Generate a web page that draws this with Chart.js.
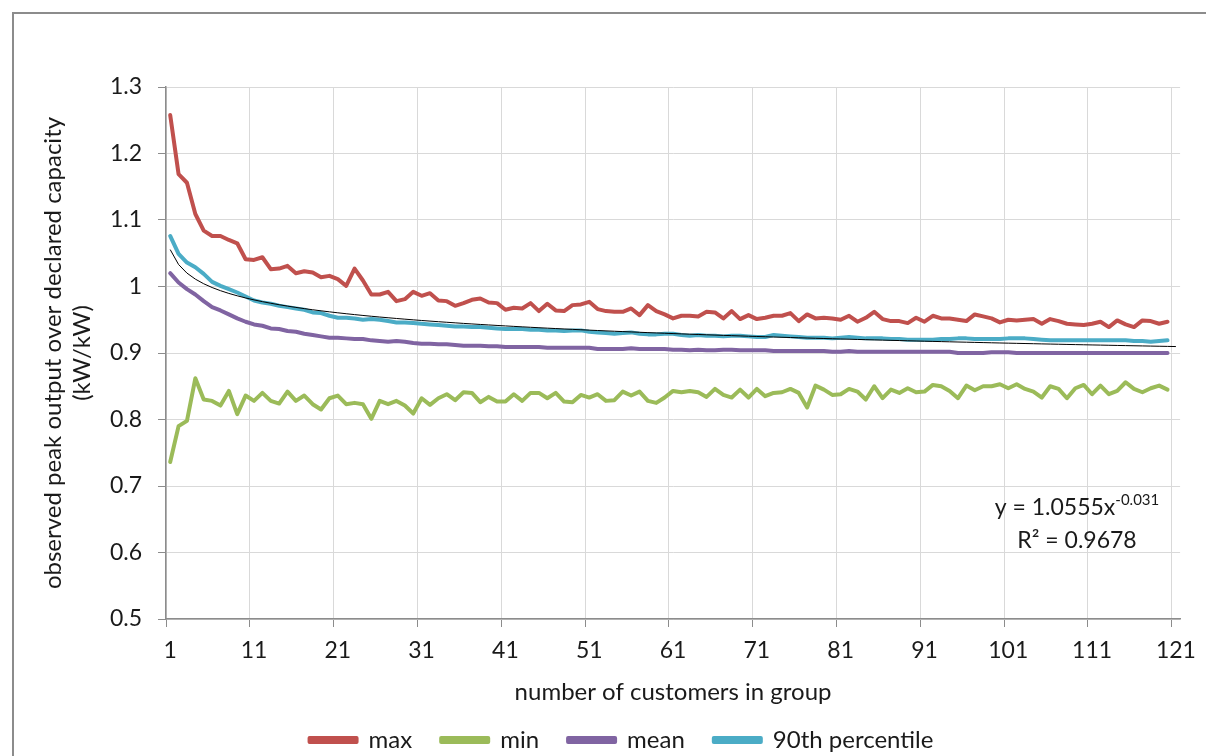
<!DOCTYPE html>
<html>
<head>
<meta charset="utf-8">
<script src="https://cdn.jsdelivr.net/npm/chart.js@4.4.1/dist/chart.umd.min.js"></script>
<style>
    html, body {
        margin: 0;
        padding: 0;
        background: #ffffff;
        overflow: hidden;
    }

    #wrap {
        position: relative;
        width: 1206px;
        height: 756px;
    }

    #frame {
        position: absolute;
        left: 12px;
        top: 12px;
        width: 1300px;
        height: 900px;
        border: 2px solid #8c8c8c;
        box-sizing: border-box;
    }

    #chart {
        position: absolute;
        left: 0;
        top: 0;
    }
</style>
</head>
<body>
<div id="wrap">
    <div id="frame"></div>
    <canvas id="chart" width="1206" height="756"></canvas>
</div>

<script>
// group sizes 1..121 on the category axis (data runs to 120)
const groupSizes = Array.from({ length: 121 }, (_, i) => i + 1);

const maxVals = [
    1.258, 1.169, 1.156, 1.109, 1.084, 1.076, 1.076, 1.070, 1.065, 1.041,
    1.040, 1.044, 1.026, 1.027, 1.031, 1.020, 1.023, 1.021, 1.014, 1.016,
    1.011, 1.001, 1.027, 1.009, 0.988, 0.988, 0.992, 0.978, 0.981, 0.992,
    0.986, 0.990, 0.979, 0.978, 0.971, 0.975, 0.980, 0.982, 0.976, 0.975,
    0.965, 0.968, 0.967, 0.975, 0.963, 0.974, 0.964, 0.963, 0.972, 0.973,
    0.977, 0.966, 0.963, 0.962, 0.962, 0.967, 0.957, 0.972, 0.963, 0.958,
    0.952, 0.956, 0.956, 0.955, 0.962, 0.961, 0.952, 0.963, 0.951, 0.957,
    0.951, 0.953, 0.956, 0.956, 0.960, 0.948, 0.958, 0.952, 0.953, 0.952,
    0.950, 0.956, 0.947, 0.953, 0.962, 0.951, 0.948, 0.948, 0.945, 0.953,
    0.947, 0.956, 0.952, 0.952, 0.950, 0.948, 0.958, 0.955, 0.952, 0.946,
    0.950, 0.949, 0.950, 0.951, 0.944, 0.951, 0.948, 0.944, 0.943, 0.942,
    0.944, 0.947, 0.939, 0.949, 0.943, 0.939, 0.949, 0.948, 0.944, 0.947
];

const minVals = [
    0.736, 0.790, 0.798, 0.862, 0.830, 0.828, 0.821, 0.843, 0.808, 0.836,
    0.828, 0.840, 0.828, 0.824, 0.842, 0.828, 0.836, 0.823, 0.815, 0.832,
    0.836, 0.823, 0.825, 0.823, 0.801, 0.828, 0.823, 0.828, 0.821, 0.809,
    0.832, 0.822, 0.832, 0.838, 0.829, 0.841, 0.840, 0.826, 0.834, 0.827,
    0.827, 0.838, 0.828, 0.840, 0.840, 0.832, 0.840, 0.827, 0.826, 0.837,
    0.833, 0.838, 0.828, 0.829, 0.842, 0.836, 0.842, 0.828, 0.825, 0.833,
    0.843, 0.841, 0.843, 0.841, 0.834, 0.846, 0.837, 0.833, 0.845, 0.833,
    0.846, 0.835, 0.840, 0.841, 0.846, 0.840, 0.818, 0.851, 0.845, 0.837,
    0.838, 0.846, 0.842, 0.830, 0.850, 0.832, 0.845, 0.840, 0.847, 0.841,
    0.842, 0.852, 0.850, 0.843, 0.832, 0.851, 0.844, 0.850, 0.850, 0.853,
    0.847, 0.853, 0.846, 0.842, 0.833, 0.850, 0.846, 0.832, 0.847, 0.852,
    0.838, 0.851, 0.838, 0.843, 0.856, 0.846, 0.841, 0.847, 0.851, 0.845
];

const meanVals = [
    1.020, 1.006, 0.996, 0.988, 0.978, 0.969, 0.964, 0.958, 0.952, 0.947,
    0.943, 0.941, 0.937, 0.936, 0.933, 0.932, 0.929, 0.927, 0.925, 0.923,
    0.923, 0.922, 0.921, 0.921, 0.919, 0.918, 0.917, 0.918, 0.917, 0.915,
    0.914, 0.914, 0.913, 0.913, 0.912, 0.911, 0.911, 0.911, 0.910, 0.910,
    0.909, 0.909, 0.909, 0.909, 0.909, 0.908, 0.908, 0.908, 0.908, 0.908,
    0.908, 0.906, 0.906, 0.906, 0.906, 0.907, 0.906, 0.906, 0.906, 0.906,
    0.905, 0.905, 0.904, 0.905, 0.904, 0.904, 0.905, 0.905, 0.904, 0.904,
    0.904, 0.904, 0.903, 0.903, 0.903, 0.903, 0.903, 0.903, 0.903, 0.902,
    0.902, 0.903, 0.902, 0.902, 0.902, 0.902, 0.902, 0.902, 0.902, 0.902,
    0.902, 0.902, 0.902, 0.902, 0.900, 0.900, 0.900, 0.900, 0.901, 0.901,
    0.901, 0.900, 0.900, 0.900, 0.900, 0.900, 0.900, 0.900, 0.900, 0.900,
    0.900, 0.900, 0.900, 0.900, 0.900, 0.900, 0.900, 0.900, 0.900, 0.900
];

const p90Vals = [
    1.076, 1.049, 1.036, 1.029, 1.019, 1.007, 1.001, 0.996, 0.991, 0.985,
    0.979, 0.976, 0.974, 0.971, 0.969, 0.967, 0.965, 0.961, 0.960, 0.956,
    0.953, 0.953, 0.952, 0.950, 0.951, 0.950, 0.948, 0.946, 0.946, 0.945,
    0.944, 0.943, 0.942, 0.941, 0.940, 0.940, 0.939, 0.939, 0.938, 0.937,
    0.936, 0.936, 0.936, 0.935, 0.935, 0.934, 0.934, 0.933, 0.934, 0.934,
    0.932, 0.931, 0.930, 0.929, 0.930, 0.931, 0.929, 0.928, 0.928, 0.929,
    0.929, 0.927, 0.926, 0.927, 0.926, 0.926, 0.925, 0.926, 0.926, 0.925,
    0.924, 0.924, 0.927, 0.926, 0.925, 0.924, 0.923, 0.923, 0.923, 0.922,
    0.923, 0.924, 0.923, 0.922, 0.922, 0.922, 0.921, 0.921, 0.920, 0.920,
    0.920, 0.920, 0.921, 0.921, 0.922, 0.922, 0.921, 0.921, 0.921, 0.921,
    0.922, 0.922, 0.922, 0.921, 0.920, 0.919, 0.919, 0.919, 0.919, 0.919,
    0.919, 0.919, 0.919, 0.919, 0.919, 0.918, 0.918, 0.917, 0.918, 0.919
];

// power trendline fitted to the mean, as printed on the chart
const TREND_A = 1.0555;
const TREND_B = -0.031;
const TREND_R2 = 0.9678;
const trendVals = groupSizes.map(n => TREND_A * Math.pow(n, TREND_B));

const FONT = "Lato, 'Liberation Sans', sans-serif";
const TEXT = "#1a1a1a";
const GRID = "#d9d9d9";
const AXIS = "#8c8c8c";

function seriesLine(label, data, color) {
    return {
        label: label,
        data: data,
        borderColor: color,
        backgroundColor: color,
        borderWidth: 4,
        borderJoinStyle: "round",
        borderCapStyle: "round",
        pointRadius: 0,
        tension: 0,
        fill: false,
        order: 1
    };
}

const equationLabel = {
    id: "equationLabel",
    afterDatasetsDraw(chart) {
        const ctx = chart.ctx;
        const cx = 1077;
        const main = "y = " + TREND_A + "x";
        const sup = String(TREND_B);

        ctx.save();
        ctx.fillStyle = TEXT;
        ctx.textBaseline = "middle";
        ctx.textAlign = "left";

        ctx.font = "23px " + FONT;
        const w1 = ctx.measureText(main).width;
        ctx.font = "15px " + FONT;
        const w2 = ctx.measureText(sup).width;

        const x0 = cx - (w1 + w2) / 2;
        ctx.font = "23px " + FONT;
        ctx.fillText(main, x0, 508);
        ctx.font = "15px " + FONT;
        ctx.fillText(sup, x0 + w1, 500);

        ctx.font = "23px " + FONT;
        ctx.textAlign = "center";
        ctx.fillText("R\u00b2 = " + TREND_R2, cx, 541);
        ctx.restore();
    }
};

new Chart(document.getElementById("chart"), {
    type: "line",

    data: {
        labels: groupSizes,

        datasets: [
            seriesLine("max", maxVals, "#c0504d"),
            seriesLine("min", minVals, "#9bbb59"),
            seriesLine("mean", meanVals, "#8064a2"),
            seriesLine("90th percentile", p90Vals, "#4bacc6"),
            {
                label: "trend",
                data: trendVals,
                borderColor: "#000000",
                borderWidth: 1,
                pointRadius: 0,
                tension: 0,
                fill: false,
                order: 0
            }
        ]
    },

    options: {
        responsive: false,
        animation: false,
        events: [],

        layout: {
            padding: { left: 58, right: 21, top: 87, bottom: -6 }
        },

        plugins: {
            tooltip: { enabled: false },

            legend: {
                position: "bottom",
                labels: {
                    filter: item => item.text !== "trend",
                    boxWidth: 47,
                    boxHeight: 4,
                    padding: 29,
                    color: TEXT,
                    font: { family: FONT, size: 24 }
                }
            }
        },

        scales: {
            x: {
                type: "category",
                offset: true,
                afterFit: scale => { scale.height = 80; },
                grid: {
                    offset: true,
                    color: c => (c.index % 10 === 0 ? GRID : "rgba(0,0,0,0)"),
                    tickColor: c => (c.index % 10 === 0 ? AXIS : "rgba(0,0,0,0)"),
                    tickLength: 8
                },
                border: { display: true, color: AXIS, width: 1.5 },
                ticks: {
                    autoSkip: false,
                    maxRotation: 0,
                    padding: 10,
                    color: TEXT,
                    font: { family: FONT, size: 23 },
                    callback: (v, i) => (i % 10 === 0 ? groupSizes[i] : "")
                },
                title: {
                    display: true,
                    text: "number of customers in group",
                    color: TEXT,
                    font: { family: FONT, size: 24 },
                    padding: { top: 0, bottom: -8 }
                }
            },

            y: {
                min: 0.5,
                max: 1.3,
                afterFit: scale => { scale.width = 108; },
                grid: {
                    color: GRID,
                    tickColor: AXIS,
                    tickLength: 8
                },
                border: { display: true, color: AXIS, width: 1.5 },
                ticks: {
                    stepSize: 0.1,
                    padding: 16,
                    color: TEXT,
                    font: { family: FONT, size: 23 },
                    callback: v => String(+v.toFixed(1))
                },
                title: {
                    display: true,
                    text: ["observed peak output over declared capacity", "(kW/kW)"],
                    color: TEXT,
                    font: { family: FONT, size: 24 },
                    padding: { top: -19, bottom: 0 }
                }
            }
        }
    },

    plugins: [equationLabel]
});
</script>
</body>
</html>
